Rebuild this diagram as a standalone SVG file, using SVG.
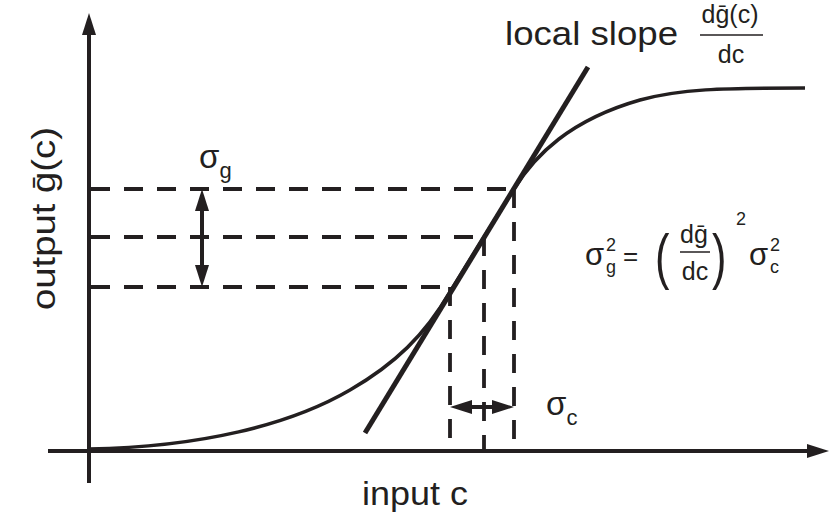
<svg xmlns="http://www.w3.org/2000/svg" width="830" height="516" viewBox="0 0 830 516">
<defs>
<style>
.ax{stroke:#231f20;stroke-width:4;fill:none}
.dash{stroke:#231f20;stroke-width:3.8;fill:none;stroke-dasharray:19 14}
.crv{stroke:#231f20;stroke-width:3.5;fill:none}
.tan{stroke:#231f20;stroke-width:5;fill:none}
.dbl{stroke:#231f20;stroke-width:4;fill:none}
text{font-family:"Liberation Sans","DejaVu Sans",sans-serif;fill:#231f20}
</style>
<marker id="ah" viewBox="0 0 22 14" refX="14" refY="7" markerWidth="22" markerHeight="14" markerUnits="userSpaceOnUse" orient="auto-start-reverse">
<path d="M0,0 L22,7 L0,14 z" fill="#231f20"/>
</marker>
<marker id="ahs" viewBox="0 0 22 14" refX="14" refY="7" markerWidth="22" markerHeight="14" markerUnits="userSpaceOnUse" orient="auto-start-reverse">
<path d="M0,0 L22,7 L0,14 z" fill="#231f20"/>
</marker>
</defs>
<rect width="830" height="516" fill="#fff"/>

<g id="axes">
<line class="ax" x1="89" y1="483" x2="89" y2="21" marker-end="url(#ah)"/>
<line class="ax" x1="48" y1="451" x2="821" y2="451" marker-end="url(#ah)"/>
</g>

<g id="guides">
<path class="dash" d="M91,189 H514 M91,237 H484 M91,287 H450"/>
<path class="dash" d="M514,189 V451 M484,237 V451 M450,287 V451"/>
</g>

<g id="curve">
<path class="crv" d="M89,449 C200,447 290,425 350,390 C395,364 425,335 450,292 L484,237 L514,189 C535,155 570,120 640,100 C680,89 720,88 805,88"/>
</g>

<g id="tangent">
<line class="tan" x1="365" y1="433" x2="588" y2="67"/>
</g>

<g id="connectors">
<line class="dbl" x1="202" y1="197" x2="202" y2="279" marker-start="url(#ahs)" marker-end="url(#ahs)"/>
<line class="dbl" x1="458" y1="407" x2="506" y2="407" marker-start="url(#ahs)" marker-end="url(#ahs)"/>
</g>

<g id="labels">
<text x="505" y="45" font-size="34" textLength="173" lengthAdjust="spacingAndGlyphs">local slope</text>
<text x="730" y="23" font-size="25" text-anchor="middle">dḡ(c)</text>
<line x1="700" y1="35" x2="763" y2="35" stroke="#231f20" stroke-width="1.5"/>
<text x="731" y="63" font-size="25" text-anchor="middle">dc</text>

<text x="362" y="505" font-size="34" textLength="106" lengthAdjust="spacingAndGlyphs">input c</text>
<text transform="translate(55,310) rotate(-90)" font-size="34" textLength="183" lengthAdjust="spacingAndGlyphs">output ḡ(c)</text>

<text x="199" y="168" font-size="33">σ<tspan font-size="22" dy="10">g</tspan></text>
<text x="546" y="415" font-size="33">σ<tspan font-size="22" dy="10">c</tspan></text>

<g id="equation">
<text x="585" y="265" font-size="31">σ</text>
<text x="606" y="251" font-size="18">2</text>
<text x="606" y="273" font-size="18">g</text>
<text x="623" y="265" font-size="26">=</text>
<text x="655" y="277" font-size="62" font-weight="100" transform="translate(655,0) scale(0.7,1) translate(-655,0)">(</text>
<text x="694" y="243" font-size="25" text-anchor="middle">dḡ</text>
<line x1="680" y1="252" x2="710" y2="252" stroke="#231f20" stroke-width="1.5"/>
<text x="695" y="280" font-size="25" text-anchor="middle">dc</text>
<text x="712" y="277" font-size="62" font-weight="100" transform="translate(712,0) scale(0.7,1) translate(-712,0)">)</text>
<text x="736" y="225" font-size="18">2</text>
<text x="749" y="265" font-size="31">σ</text>
<text x="770" y="251" font-size="18">2</text>
<text x="770" y="273" font-size="18">c</text>
</g>
</g>
</svg>
